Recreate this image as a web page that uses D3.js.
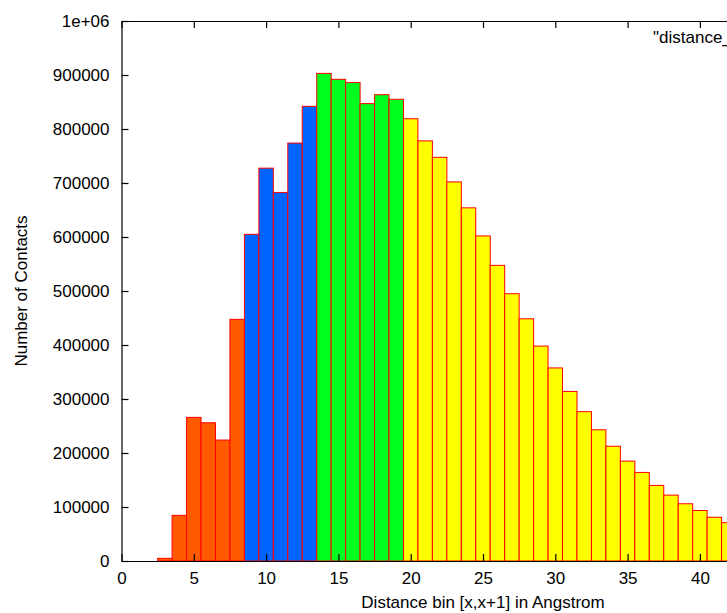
<!DOCTYPE html>
<html>
<head>
<meta charset="utf-8">
<script src="https://cdn.jsdelivr.net/npm/d3@7"></script>
<style>
  body { margin: 0; background: #fff; }
  svg { display: block; font-family: "Liberation Sans", Arial, sans-serif; }
</style>
</head>
<body>
<div id="chart"></div>
<script>
// distance bins (bar centres) and contact counts
const bins = [3, 4, 5, 6, 7, 8, 9, 10, 11, 12, 13, 14, 15, 16, 17, 18, 19, 20, 21, 22,
  23, 24, 25, 26, 27, 28, 29, 30, 31, 32, 33, 34, 35, 36, 37, 38, 39, 40, 41, 42];
const contacts = [5000, 84500, 266000, 256000, 224000, 447500, 605000, 727500, 682500, 774000,
  842000, 903000, 892000, 886000, 847000, 863500, 855000, 819000, 778000, 747500,
  702000, 654000, 602000, 547500, 495000, 448500, 398000, 357500, 314000, 276500,
  243000, 212500, 185000, 164000, 140000, 122000, 106000, 93500, 81000, 71000];

// group boundaries and their fills
const groupBreaks = [8.5, 13.5, 19.5];
const groupColors = ["#ff5a00", "#0064ff", "#00ff1e", "#ffff00"];

const xTicks = [0, 5, 10, 15, 20, 25, 30, 35, 40];
const yTicks = [0, 100000, 200000, 300000, 400000, 500000, 600000, 700000, 800000, 900000, 1000000];
const yTickLabels = ["0", "100000", "200000", "300000", "400000", "500000",
  "600000", "700000", "800000", "900000", "1e+06"];

const seriesName = '"distance_histogram.dat"';
const xTitle = "Distance bin [x,x+1] in Angstrom";
const yTitle = "Number of Contacts";

const width = 727;
const height = 613;
const plotLeft = 121.5, plotRight = 844.5, plotTop = 21, plotBottom = 561;

const x = d3.scaleLinear().domain([0, 50]).range([plotLeft, plotRight]);
const y = d3.scaleLinear().domain([0, 1000000]).range([plotBottom, plotTop]);
const color = d3.scaleThreshold().domain(groupBreaks).range(groupColors);

const svg = d3.select("#chart").append("svg")
  .attr("width", width)
  .attr("height", height);

const data = bins.map((b, i) => ({ bin: b, value: contacts[i] }));

// bars
svg.append("g")
  .selectAll("rect")
  .data(data)
  .enter().append("rect")
  .attr("x", d => x(d.bin - 0.5))
  .attr("y", d => y(d.value))
  .attr("width", d => x(d.bin + 0.5) - x(d.bin - 0.5))
  .attr("height", d => y(0) - y(d.value))
  .attr("fill", d => color(d.bin))
  .attr("stroke", "#ff0000")
  .attr("stroke-width", 1);

// axes with inward ticks
const fontSize = "17px";

svg.append("g")
  .attr("transform", `translate(0,${plotBottom})`)
  .call(d3.axisBottom(x).tickValues(xTicks).tickSizeInner(-7).tickSizeOuter(0).tickPadding(11));

svg.append("g")
  .attr("transform", `translate(${plotLeft},0)`)
  .call(d3.axisLeft(y).tickValues(yTicks).tickFormat((d, i) => yTickLabels[i])
    .tickSizeInner(-7).tickSizeOuter(0).tickPadding(12));

svg.append("g")
  .attr("transform", `translate(0,${plotTop})`)
  .call(d3.axisTop(x).tickValues(xTicks).tickFormat("").tickSizeInner(-7).tickSizeOuter(0));

svg.append("g")
  .attr("transform", `translate(${plotRight},0)`)
  .call(d3.axisRight(y).tickValues(yTicks).tickFormat("").tickSizeInner(-7).tickSizeOuter(0));

svg.selectAll(".domain, .tick line").attr("stroke", "#000").attr("stroke-width", 1.2);
svg.selectAll(".tick text")
  .attr("fill", "#000")
  .style("font-size", fontSize)
  .style("font-family", '"Liberation Sans", Arial, sans-serif');

// titles
svg.append("text")
  .attr("x", (plotLeft + plotRight) / 2)
  .attr("y", 608)
  .attr("text-anchor", "middle")
  .style("font-size", fontSize)
  .text(xTitle);

svg.append("text")
  .attr("transform", `translate(27,${(plotTop + plotBottom) / 2}) rotate(-90)`)
  .attr("text-anchor", "middle")
  .style("font-size", fontSize)
  .text(yTitle);

// key label (clipped by the window edge, as in the original)
svg.append("text")
  .attr("x", 653)
  .attr("y", 43)
  .style("font-size", fontSize)
  .text(seriesName);
</script>
</body>
</html>
